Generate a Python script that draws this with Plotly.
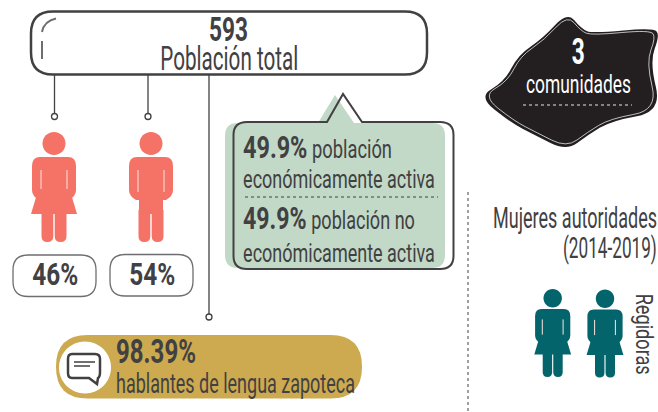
import json
import plotly.graph_objects as go

W, H = 658, 412
DARK = "#414042"
CORAL = "#f47266"
TEAL = "#04646b"
GREEN = "#c1d9c6"
GOLD = "#cdaa4f"
FONT = "Roboto"

total = "593"
total_label = "Población total"
female_pct = "46%"
male_pct = "54%"
active_pct = "49.9%"
inactive_pct = "49.9%"
speakers_pct = "98.39%"
speakers_label = "hablantes de lengua zapoteca"
communities = "3"
communities_label = "comunidades"
authorities_title = ["Mujeres autoridades", "(2014-2019)"]
authorities_role = "Regidoras"

shapes = []


def add(path, fill="rgba(0,0,0,0)", line=None, width=0, dash=None):
    shapes.append(dict(type="path", path=path, fillcolor=fill,
                       line=dict(color=line or "rgba(0,0,0,0)", width=width, dash=dash or "solid"),
                       xref="x", yref="y", layer="above"))


def rrect(x0, y0, x1, y1, r):
    return (f"M{x0+r},{y0} L{x1-r},{y0} Q{x1},{y0} {x1},{y0+r} L{x1},{y1-r} Q{x1},{y1} {x1-r},{y1} "
            f"L{x0+r},{y1} Q{x0},{y1} {x0},{y1-r} L{x0},{y0+r} Q{x0},{y0} {x0+r},{y0} Z")


def circle(cx, cy, r):
    k = r * 0.5523
    return (f"M{cx-r},{cy} C{cx-r},{cy-k} {cx-k},{cy-r} {cx},{cy-r} C{cx+k},{cy-r} {cx+r},{cy-k} {cx+r},{cy} "
            f"C{cx+r},{cy+k} {cx+k},{cy+r} {cx},{cy+r} C{cx-k},{cy+r} {cx-r},{cy+k} {cx-r},{cy} Z")


def person(cx, top, s, color, female):
    X = lambda v: cx + v * s
    Y = lambda v: top + v * s
    add(circle(X(0), Y(11.5), 11.5 * s), fill=color)
    add(f"M{X(-14)},{Y(25)} L{X(14)},{Y(25)} Q{X(22)},{Y(25)} {X(22)},{Y(34)} L{X(22)},{Y(58)} "
        f"Q{X(22)},{Y(64)} {X(15)},{Y(68)} L{X(-15)},{Y(68)} Q{X(-22)},{Y(64)} {X(-22)},{Y(58)} "
        f"L{X(-22)},{Y(34)} Q{X(-22)},{Y(25)} {X(-14)},{Y(25)} Z", fill=color)
    if female:
        add(f"M{X(-17)},{Y(62)} L{X(17)},{Y(62)} L{X(23)},{Y(82)} L{X(-23)},{Y(82)} Z", fill=color)
    else:
        add(f"M{X(-12)},{Y(60)} L{X(12)},{Y(60)} L{X(12)},{Y(82)} L{X(-12)},{Y(82)} Z", fill=color)
    for sx in (-13, 13):
        add(f"M{X(sx)},{Y(38)} L{X(sx)},{Y(60 if not female else 57)}", line="#fbe3df", width=1)
    for a, b in ((-12.5, -0.7), (0.7, 12.5)):
        m = (a + b) / 2
        add(f"M{X(a)},{Y(78)} L{X(b)},{Y(78)} L{X(b)},{Y(104)} Q{X(b)},{Y(110)} {X(m)},{Y(110)} "
            f"Q{X(a)},{Y(110)} {X(a)},{Y(104)} Z", fill=color)


def smooth(points):
    n = len(points)
    mid = lambda a, b: ((a[0] + b[0]) / 2, (a[1] + b[1]) / 2)
    s = mid(points[-1], points[0])
    p = f"M{s[0]},{s[1]} "
    for i in range(n):
        m = mid(points[i], points[(i + 1) % n])
        p += f"Q{points[i][0]},{points[i][1]} {m[0]},{m[1]} "
    return p + "Z"


add(rrect(31, 11.5, 427, 74.5, 22), fill="white", line=DARK, width=2.5)
add("M56,18.5 Q44,21 42,32", line="#6d6e71", width=2)
add("M42,41 L42,59", line="#6d6e71", width=2)

for x, y0, y1 in ((54.5, 75, 113), (148, 75, 113), (209, 75, 314)):
    add(f"M{x},{y0} L{x},{y1}", line=DARK, width=1.3)
for x, y in ((54.5, 116.5), (148, 116.5), (209, 317)):
    add(circle(x, y, 3), fill="white", line=DARK, width=1.3)

person(54, 132, 1.0, CORAL, True)
person(151, 132, 1.0, CORAL, False)
person(552.7, 289, 0.8, TEAL, True)
person(605, 289.5, 0.8, TEAL, True)

add(rrect(13, 255, 96, 296.5, 15), fill="white", line="#6d6e71", width=1.3)
add(rrect(110, 254.5, 193, 296, 15), fill="white", line="#6d6e71", width=1.3)

add(rrect(225, 123, 445, 268, 13), fill=GREEN)
add("M318,123 L335,95 L354,123 Z", fill=GREEN)
add("M327,122 L343,94 L362,122 L440,122 Q453.5,122 453.5,135 L453.5,256 Q453.5,269 440,269 "
    "L247,269 Q233.5,269 233.5,256 L233.5,135 Q233.5,122 247,122 Z", line=DARK, width=2)
add("M245,197 L438,197", line=DARK, width=1, dash="dot")

blob = [(268, 20), (310, 72), (345, 85), (528, 68), (545, 92), (515, 170), (552, 320),
        (400, 347), (330, 390), (265, 438), (170, 390), (100, 354), (0, 275), (80, 230),
        (120, 150), (195, 100)]
outer = [(x / 3 + 478, y / 3 + 5) for x, y in blob]
cx, cy = 572, 77
inner = [(cx + (x - cx) * 0.955, cy + (y - cy) * 0.955) for x, y in outer]
add(smooth(outer), fill="#231f20")
add(smooth(inner), line="#e6e6e6", width=0.8)
add("M523,105 L632,105", line="#e6e6e6", width=1, dash="dot")

add(rrect(56, 335, 362, 398.5, 31.5), fill=GOLD)
add(circle(85, 367.5, 26), fill="white")
add("M72,354 L95,354 Q100,354 100,359 L100,372 Q100,377 98,378 L97,384 L89,378 L72,378 Q68,378 68,373 L68,359 Q68,354 72,354 Z",
    line=DARK, width=2.5)
add("M74,362 L95,362", line=DARK, width=1.5)
add("M74,366 L90,366", line=DARK, width=1.5)

add("M468,192 L468,412", line=DARK, width=1, dash="dot")

ann = []
fit = []


def text(x, y, s, size, width, color=DARK, anchor="center", bold=False, angle=0):
    ann.append(dict(x=x, y=y, text=f"<b>{s}</b>" if bold else s, xref="x", yref="y", showarrow=False,
                    font=dict(family=FONT, size=size, color=color), xanchor=anchor, yanchor="middle",
                    textangle=angle, borderpad=0, borderwidth=0))
    fit.append([width, anchor])


text(228.5, 29, total, 33, 39, bold=True)
text(229, 58, total_label, 33, 138)
text(55, 274, female_pct, 32, 46, bold=True)
text(152, 274, male_pct, 32, 46, bold=True)
text(243, 146.5, f"<b><span style='font-size:32px'>{active_pct}</span></b> población", 25, 149, anchor="left")
text(243, 179, "económicamente activa", 25, 192, anchor="left")
text(243, 217.5, f"<b><span style='font-size:32px'>{inactive_pct}</span></b> población no", 25, 172, anchor="left")
text(243, 253, "económicamente activa", 25, 192, anchor="left")
text(116, 351, speakers_pct, 33, 80, bold=True, anchor="left")
text(116, 383, speakers_label, 28, 239, anchor="left")
text(578, 51.5, communities, 36, 13, color="white", bold=True)
text(578.5, 84, communities_label, 25, 105, color="white")
text(657, 217, authorities_title[0], 30, 164, anchor="right")
text(657, 247, authorities_title[1], 30, 94, anchor="right")
text(644, 333.5, authorities_role, 24.5, 81, angle=90)

fig = go.Figure()
fig.update_layout(
    width=W, height=H, margin=dict(l=0, r=0, t=0, b=0), paper_bgcolor="white", plot_bgcolor="white",
    xaxis=dict(range=[0, W], visible=False, fixedrange=True),
    yaxis=dict(range=[H, 0], visible=False, fixedrange=True),
    shapes=shapes, annotations=ann, showlegend=False,
)
post = """
document.documentElement.style.margin='0';
document.body.style.margin='0';
document.body.style.overflow='hidden';
var FIT=%s;
function fitText(){
  var ts=document.querySelectorAll('.annotation-text');
  ts.forEach(function(t,i){
    if(t.dataset.fit||!FIT[i])return;
    var b=t.getBBox();
    if(!b.width)return;
    var s=FIT[i][0]/b.width, a=FIT[i][1];
    var c=a==='left'?b.x:(a==='right'?b.x+b.width:b.x+b.width/2);
    t.setAttribute('transform','translate('+c+',0) scale('+s+',1) translate('+(-c)+',0)');
    t.dataset.fit='1';
  });
}
fitText();
if(document.fonts&&document.fonts.ready){document.fonts.ready.then(fitText);}
setTimeout(fitText,50);
""" % json.dumps(fit)
fig.write_html("out.html", config=dict(displayModeBar=False), post_script=post)
